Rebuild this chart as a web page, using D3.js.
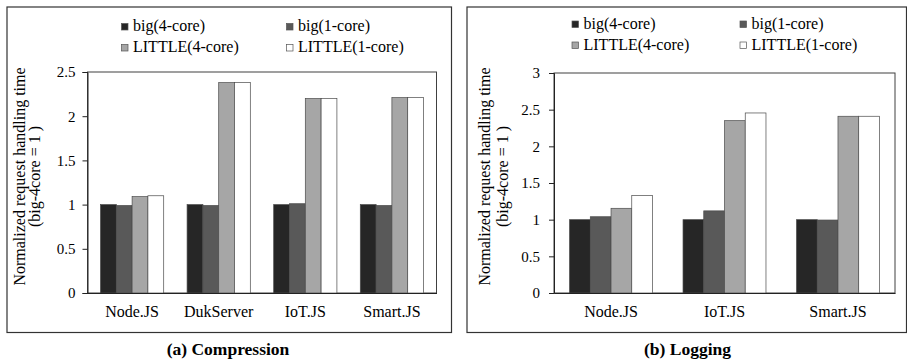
<!DOCTYPE html>
<html>
<head>
<meta charset="utf-8">
<script src="https://cdn.jsdelivr.net/npm/d3@7"></script>
<style>
  html, body { margin: 0; padding: 0; background: #fff; }
  svg { display: block; }
  text { font-family: "Liberation Serif", "Times New Roman", serif; fill: #000; }
</style>
</head>
<body>
<svg id="chart" width="907" height="359"></svg>
<script>
// ---- data ----
const seriesNames = ["big(4-core)", "big(1-core)", "LITTLE(4-core)", "LITTLE(1-core)"];
const seriesColors = ["#262626", "#595959", "#a6a6a6", "#ffffff"];

const compCategories = ["Node.JS", "DukServer", "IoT.JS", "Smart.JS"];
const compBig4 = [1.00, 1.00, 1.00, 1.00];
const compBig1 = [0.99, 0.99, 1.01, 0.99];
const compLittle4 = [1.09, 2.38, 2.20, 2.21];
const compLittle1 = [1.10, 2.38, 2.20, 2.21];
const compTicks = [0, 0.5, 1, 1.5, 2, 2.5];

const logCategories = ["Node.JS", "IoT.JS", "Smart.JS"];
const logBig4 = [1.00, 1.00, 1.00];
const logBig1 = [1.04, 1.12, 0.995];
const logLittle4 = [1.155, 2.35, 2.41];
const logLittle1 = [1.33, 2.455, 2.41];
const logTicks = [0, 0.5, 1, 1.5, 2, 2.5, 3];

const yLabel1 = "Normalized request handling time";
const yLabel2 = "(big-4core = 1 )";

const svg = d3.select("#chart");

function drawPanel(cfg) {
  const g = svg.append("g");
  // outer border
  g.append("rect")
    .attr("x", cfg.box[0]).attr("y", cfg.box[1])
    .attr("width", cfg.box[2] - cfg.box[0]).attr("height", cfg.box[3] - cfg.box[1])
    .attr("fill", "none").attr("stroke", "#333").attr("stroke-width", 1.2);

  const [L, T, R, B] = cfg.plot;
  const y = d3.scaleLinear().domain([0, cfg.ymax]).range([B, T]);
  const x0 = d3.scaleBand().domain(cfg.categories).range([L, R])
    .paddingInner(cfg.pIn).paddingOuter(cfg.pOut);
  const x1 = d3.scaleBand().domain(seriesNames).range([0, x0.bandwidth()]).padding(0);

  // plot frame
  g.append("rect")
    .attr("x", L).attr("y", T).attr("width", R - L).attr("height", B - T)
    .attr("fill", "none").attr("stroke", "#404040").attr("stroke-width", 1);

  // bars
  const rows = cfg.categories.map((c, i) => ({
    cat: c,
    vals: seriesNames.map((s, k) => ({ s, k, v: cfg.series[k][i] }))
  }));
  g.selectAll("g.grp").data(rows).join("g")
    .attr("class", "grp")
    .attr("transform", d => `translate(${x0(d.cat)},0)`)
    .selectAll("rect").data(d => d.vals).join("rect")
    .attr("x", d => x1(d.s))
    .attr("y", d => y(d.v))
    .attr("width", x1.bandwidth())
    .attr("height", d => B - y(d.v))
    .attr("fill", d => seriesColors[d.k])
    .attr("stroke", "#4a4a4a")
    .attr("stroke-width", 0.7);

  // y axis
  const ya = g.append("g").attr("transform", `translate(${L},0)`)
    .call(d3.axisLeft(y).tickValues(cfg.ticks).tickFormat(d3.format("")).tickSize(5).tickPadding(cfg.tickPad));
  ya.select(".domain").attr("stroke", "#222");
  ya.selectAll(".tick line").attr("stroke", "#222");
  ya.selectAll(".tick text").attr("font-size", 15).attr("font-family", "Liberation Serif").attr("fill", "#000");

  // x axis
  const xa = g.append("g").attr("transform", `translate(0,${B})`)
    .call(d3.axisBottom(x0).tickSize(0).tickPadding(12.5));
  xa.select(".domain").attr("stroke", "#222");
  xa.selectAll(".tick text").attr("font-size", 16).attr("font-family", "Liberation Serif").attr("fill", "#000");

  // y label
  const cy = cfg.labelY;
  g.append("text")
    .attr("transform", `translate(${cfg.labelX1},${cy}) rotate(-90)`)
    .attr("text-anchor", "middle").attr("font-size", 16)
    .text(yLabel1);
  g.append("text")
    .attr("transform", `translate(${cfg.labelX2},${cy}) rotate(-90)`)
    .attr("text-anchor", "middle").attr("font-size", 16)
    .text(yLabel2);

  // legend
  seriesNames.forEach((s, k) => {
    const col = k % 2, row = Math.floor(k / 2);
    const lx = cfg.legX[col], base = cfg.legY[row];
    g.append("rect")
      .attr("x", lx).attr("y", base - 7.5).attr("width", 6.5).attr("height", 6.5)
      .attr("fill", seriesColors[k]).attr("stroke", "#555").attr("stroke-width", 0.7);
    g.append("text")
      .attr("x", lx + 11.5).attr("y", base)
      .attr("font-size", 16).text(s);
  });

  // caption
  g.append("text")
    .attr("x", cfg.capX).attr("y", 355)
    .attr("text-anchor", "middle").attr("font-size", 17.5).attr("font-weight", "bold")
    .text(cfg.caption);
}

drawPanel({
  box: [7, 7, 451.5, 332.5],
  plot: [87.5, 72, 436.5, 293],
  ymax: 2.5,
  categories: compCategories,
  series: [compBig4, compBig1, compLittle4, compLittle1],
  ticks: compTicks,
  pIn: 0.27, pOut: 0.15,
  tickPad: 7,
  labelX1: 25, labelX2: 39.5, labelY: 176.5,
  legX: [121.5, 286.5], legY: [31, 52],
  caption: "(a) Compression", capX: 228
});

drawPanel({
  box: [467, 7, 906.5, 332.5],
  plot: [554, 73, 895, 293],
  ymax: 3,
  categories: logCategories,
  series: [logBig4, logBig1, logLittle4, logLittle1],
  ticks: logTicks,
  pIn: 0.269, pOut: 0.137,
  tickPad: 9,
  labelX1: 490, labelX2: 508, labelY: 176.5,
  legX: [572, 740], legY: [28.5, 49.5],
  caption: "(b) Logging", capX: 687.5
});
</script>
</body>
</html>
